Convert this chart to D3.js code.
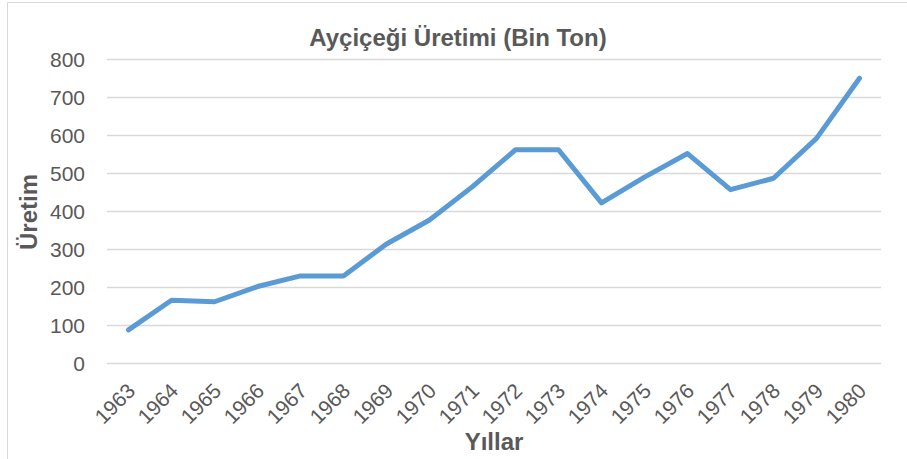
<!DOCTYPE html>
<html><head><meta charset="utf-8">
<script src="https://cdn.jsdelivr.net/npm/d3@7/dist/d3.min.js"></script>
<style>html,body{margin:0;padding:0;background:#fff;}svg{display:block;font-family:"Liberation Sans",Arial,sans-serif;}</style>
</head><body>
<svg id="c" width="907" height="459"></svg>
<script>
const years = ["1963","1964","1965","1966","1967","1968","1969","1970","1971","1972","1973","1974","1975","1976","1977","1978","1979","1980"];
const production = [88,166,162,202,230,230,314,377,465,562,562,422,490,552,457,487,592,750];
const yTicks = [0,100,200,300,400,500,600,700,800];
const titleText = "Ayçiçeği Üretimi (Bin Ton)";
const yTitle = "Üretim";
const xTitle = "Yıllar";

const svg = d3.select("#c");
const W = 907, H = 459;
const m = {left:107, right:881, top:59.3, bottom:363.3};

// chart border
svg.append("path").attr("d", `M7.5,${H} L7.5,2.5 L${W},2.5`).attr("fill","none").attr("stroke","#d9d9d9").attr("stroke-width",1);

const x = d3.scaleBand().domain(years).range([m.left, m.right]);
const y = d3.scaleLinear().domain([0,800]).range([m.bottom, m.top]);

// grid
svg.append("g").selectAll("line").data(yTicks).join("line")
  .attr("x1", m.left).attr("x2", m.right)
  .attr("y1", d=>Math.round(y(d))+0.5).attr("y2", d=>Math.round(y(d))+0.5)
  .attr("stroke","#d9d9d9").attr("stroke-width",1.3);

// y ticks
const yAxis = d3.axisLeft(y).tickValues(yTicks).tickSize(0).tickPadding(0);
const gy = svg.append("g").attr("transform","translate(85,0)").call(yAxis);
gy.select(".domain").remove();
gy.selectAll("text").attr("font-size",21).attr("fill","#595959").attr("font-family","Liberation Sans, Arial, sans-serif").attr("dy","0.35em");

// x ticks
const xAxis = d3.axisBottom(x).tickSize(0).tickPadding(0);
const gx = svg.append("g").attr("transform",`translate(0,${m.bottom})`).call(xAxis);
gx.select(".domain").remove();
gx.selectAll("text")
  .attr("font-size",21).attr("fill","#595959").attr("font-family","Liberation Sans, Arial, sans-serif")
  .attr("text-anchor","end").attr("dy",null).attr("y",0)
  .attr("transform","translate(8,29) rotate(-45)");

// line
const line = d3.line().x((d,i)=>x(years[i])+x.bandwidth()/2).y(d=>y(d));
svg.append("path").datum(production).attr("d",line)
  .attr("fill","none").attr("stroke","#5b9bd5").attr("stroke-width",5)
  .attr("stroke-linejoin","round").attr("stroke-linecap","round");

// titles
svg.append("text").attr("x",458).attr("y",46).attr("text-anchor","middle")
  .attr("font-size",24).attr("font-weight","bold").attr("fill","#595959").text(titleText);
svg.append("text").attr("transform","translate(37,212) rotate(-90)").attr("text-anchor","middle")
  .attr("font-size",24).attr("font-weight","bold").attr("fill","#595959").text(yTitle);
svg.append("text").attr("x",494).attr("y",450).attr("text-anchor","middle")
  .attr("font-size",24).attr("font-weight","bold").attr("fill","#595959").text(xTitle);
</script>
</body></html>
